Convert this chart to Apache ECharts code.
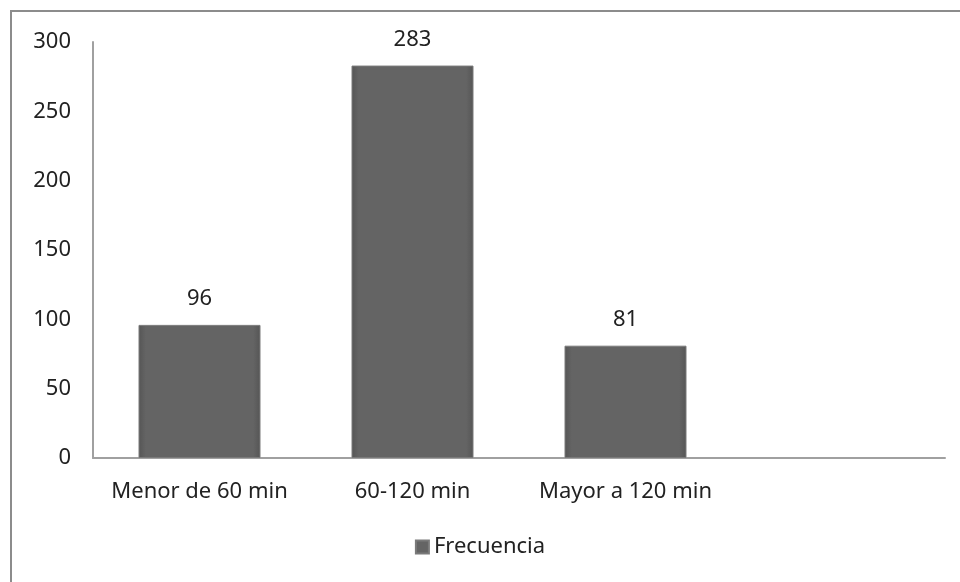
<!DOCTYPE html>
<html>
<head>
<meta charset="utf-8">
<script src="https://cdn.jsdelivr.net/npm/echarts@6/dist/echarts.min.js"></script>
<style>
  html, body { margin: 0; padding: 0; background: #fff; }
  #chart { width: 960px; height: 582px; }
</style>
</head>
<body>
<div id="chart"></div>
<script>
// data
const categories = ['Menor de 60 min', '60-120 min', 'Mayor a 120 min', ''];
const frecuencia = [96, 283, 81, null];
const yTicks = { min: 0, max: 300, interval: 50 };

const chart = echarts.init(document.getElementById('chart'));

/*
 * bars have a slight bevel: lighter rim, flat dark face
 */
const barColor = new echarts.graphic.LinearGradient(0, 0, 1, 0, [
    { offset: 0, color: '#555' },
    { offset: 0.06, color: '#646464' },
    { offset: 0.94, color: '#646464' },
    { offset: 1, color: '#555' }
]);

const font = 'Noto Sans';

chart.setOption({
    animation: false,
    textStyle: { fontFamily: font },
    graphic: [{
        type: 'rect',
        shape: { x: 11, y: 11, width: 960, height: 600 },
        style: { fill: 'none', stroke: '#8c8c8c', lineWidth: 2 }
    }],
    grid: { left: 93, right: 15, top: 42, bottom: 124 },
    legend: {
        bottom: 19,
        left: 'center',
        itemWidth: 13,
        itemHeight: 13,
        itemGap: 4,
        textStyle: { fontSize: 22, color: '#222', fontFamily: font },
        data: [{ name: 'Frecuencia', icon: 'rect' }]
    },
    xAxis: {
        type: 'category',
        data: categories,
        axisLine: { lineStyle: { color: '#a0a0a0', width: 2 } },
        axisTick: { show: false },
        axisLabel: { interval: 0, fontSize: 22, color: '#222', margin: 23 }
    },
    yAxis: {
        type: 'value',
        min: yTicks.min,
        max: yTicks.max,
        interval: yTicks.interval,
        splitLine: { show: false },
        axisLine: { show: true, lineStyle: { color: '#a0a0a0', width: 2 } },
        axisTick: { show: false },
        axisLabel: { fontSize: 22, color: '#222', margin: 22, align: 'right' }
    },
    series: [{
        name: 'Frecuencia',
        type: 'bar',
        data: frecuencia,
        barWidth: 122,
        itemStyle: { color: barColor, borderColor: '#7a7a7a', borderWidth: 1 },
        label: { show: true, position: 'top', distance: 15, fontSize: 22, color: '#222' }
    }]
});
</script>
</body>
</html>
